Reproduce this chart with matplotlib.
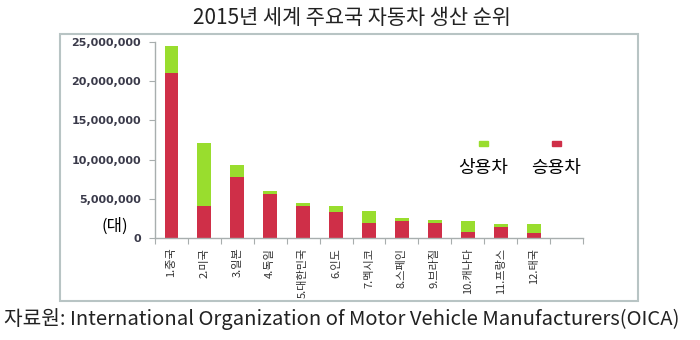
import numpy as np
import matplotlib
matplotlib.use("Agg")
import matplotlib.pyplot as plt
from matplotlib.patches import Rectangle
from matplotlib.ticker import FuncFormatter

plt.rcParams['font.family'] = ['Noto Sans CJK KR', 'DejaVu Sans']

countries = ["1.중국", "2.미국", "3.일본", "4.독일", "5.대한민국", "6.인도",
             "7.멕시코", "8.스페인", "9.브라질", "10.캐나다", "11.프랑스", "12.태국"]
passenger = [21060000, 4130000, 7790000, 5660000, 4090000, 3280000,
             1910000, 2130000, 1960000, 770000, 1400000, 680000]
commercial = [3490000, 7960000, 1490000, 340000, 420000, 810000,
              1540000, 420000, 340000, 1400000, 430000, 1150000]
yticks = [0, 5000000, 10000000, 15000000, 20000000, 25000000]

green = '#99dd2e'
red = '#cf2f48'
axcol = '#a8aeae'

fig = plt.figure(figsize=(7, 3.4), dpi=100)
ax = fig.add_axes([155 / 700, 1 - 238 / 340, 428 / 700, 196 / 340])

x = np.arange(len(countries))
ax.bar(x, passenger, width=0.42, color=red)
ax.bar(x, commercial, width=0.42, bottom=passenger, color=green)

ax.set_xlim(-0.5, len(countries) + 0.5)
ax.set_ylim(0, 25000000)
ax.set_yticks(yticks)
ax.yaxis.set_major_formatter(FuncFormatter(lambda v, p: f"{int(v):,}"))
ax.tick_params(axis='y', length=4, color=axcol, labelsize=8,
               labelcolor='#3a3a4a', pad=6)
for t in ax.get_yticklabels():
    t.set_family('DejaVu Sans')
    t.set_fontweight('bold')

ax.set_xticks(np.arange(-0.5, len(countries) + 1, 1))
ax.set_xticklabels([])
ax.set_xticks(x, minor=True)
ax.set_xticklabels(countries, minor=True, rotation=90, fontsize=8,
                   color='#333333', va='top', ha='center')
ax.tick_params(axis='x', which='major', length=4, color=axcol)
ax.tick_params(axis='x', which='minor', length=0, pad=7)

for s in ['top', 'right']:
    ax.spines[s].set_visible(False)
for s in ['left', 'bottom']:
    ax.spines[s].set_color(axcol)
    ax.spines[s].set_linewidth(1.0)

# outer frame
fig.patches.append(Rectangle((60 / 700, 1 - 301 / 340), 578 / 700, 267 / 340,
                             transform=fig.transFigure, fill=False,
                             edgecolor='#b8c4c4', linewidth=1.5))

# legend
fig.patches.append(Rectangle((479 / 700, 1 - 146 / 340), 9 / 700, 5 / 340,
                             transform=fig.transFigure, color=green))
fig.patches.append(Rectangle((552 / 700, 1 - 146 / 340), 9 / 700, 5 / 340,
                             transform=fig.transFigure, color=red))
fig.text(483 / 700, 1 - 168 / 340, "상용차", fontsize=13, ha='center', va='center')
fig.text(556 / 700, 1 - 168 / 340, "승용차", fontsize=13, ha='center', va='center')

fig.text(115 / 700, 1 - 226 / 340, "(대)", fontsize=12, ha='center', va='center',
         fontweight='medium')

fig.text(352 / 700, 1 - 18 / 340, "2015년 세계 주요국 자동차 생산 순위",
         fontsize=15, ha='center', va='center', color='#222222')
fig.text(4 / 700, 1 - 319 / 340,
         "자료원: International Organization of Motor Vehicle Manufacturers(OICA)",
         fontsize=14.6, ha='left', va='center', color='#222222')

fig.savefig("out.png", dpi=100)
